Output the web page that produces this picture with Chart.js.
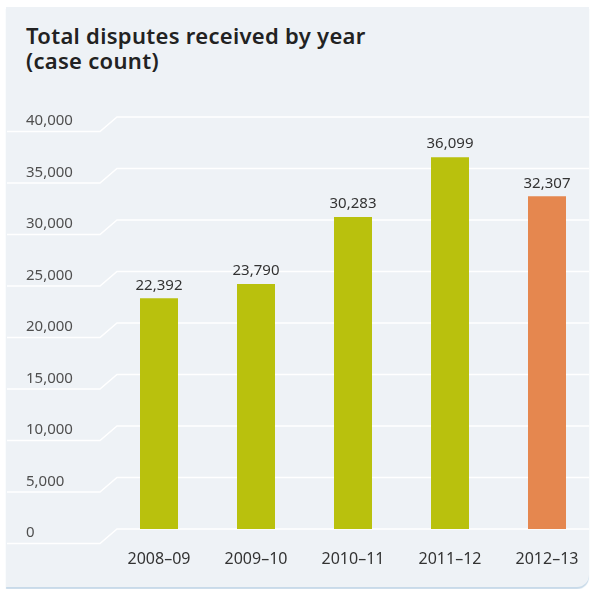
<!DOCTYPE html>
<html>
<head>
<meta charset="utf-8">
<script src="https://cdn.jsdelivr.net/npm/chart.js@4.4.1/dist/chart.umd.min.js"></script>
<style>
  html, body { margin: 0; padding: 0; background: #ffffff; overflow: hidden; }
  #panel {
    position: absolute; left: 6px; top: 7px; width: 583px; height: 580px;
    background: #eef2f6;
    border-bottom-right-radius: 12px;
    box-shadow: 0 2px 1px #c8dae9;
  }
  #title {
    position: absolute; left: 26px; top: 23px;
    font-family: "Noto Sans", sans-serif; font-weight: 600; font-size: 22px;
    line-height: 25px; color: #222222; letter-spacing: 0.3px;
  }
  #wrap { position: absolute; left: 0; top: 0; width: 600px; height: 589px; }
</style>
</head>
<body>
<div id="panel"></div>
<div id="title">Total disputes received by year<br>(case count)</div>
<div id="wrap"><canvas id="disputesChart"></canvas></div>
<script>
  const years = ["2008–09", "2009–10", "2010–11", "2011–12", "2012–13"];
  const disputes = [22392, 23790, 30283, 36099, 32307];
  const barColors = ["#b9c10d", "#b9c10d", "#b9c10d", "#b9c10d", "#e5874f"];
  const yTicks = [0, 5000, 10000, 15000, 20000, 25000, 30000, 35000, 40000];

  const fontFamily = '"Noto Sans", sans-serif';

  // white grid lines with a stepped left end under each tick label
  const steppedGrid = {
    id: "steppedGrid",
    beforeDatasetsDraw(chart) {
      const { ctx } = chart;
      const yScale = chart.scales.y;
      ctx.save();
      ctx.strokeStyle = "#ffffff";
      ctx.lineWidth = 1.5;
      yScale.ticks.forEach((tick) => {
        const y = yScale.getPixelForValue(tick.value);
        ctx.beginPath();
        ctx.moveTo(7, y + 14.5);
        ctx.lineTo(100, y + 14.5);
        ctx.lineTo(117, y);
        ctx.lineTo(589, y);
        ctx.stroke();
      });
      ctx.restore();
    },
  };

  // value labels above the bars
  const barValues = {
    id: "barValues",
    afterDatasetsDraw(chart) {
      const { ctx } = chart;
      const meta = chart.getDatasetMeta(0);
      ctx.save();
      ctx.font = "15px " + fontFamily;
      ctx.fillStyle = "#333333";
      ctx.textAlign = "center";
      ctx.textBaseline = "middle";
      meta.data.forEach((bar, i) => {
        ctx.fillText(disputes[i].toLocaleString("en-US"), bar.x, bar.y - 13);
      });
      ctx.restore();
    },
  };

  new Chart(document.getElementById("disputesChart"), {
    type: "bar",
    data: {
      labels: years,
      datasets: [
        {
          data: disputes,
          backgroundColor: barColors,
          borderWidth: 0,
          barPercentage: 1,
          categoryPercentage: 38 / 97,
        },
      ],
    },
    options: {
      responsive: true,
      maintainAspectRatio: false,
      animation: false,
      layout: { padding: { left: 26, right: 4.5, top: 117, bottom: 0 } },
      plugins: {
        legend: { display: false },
        tooltip: { enabled: false },
      },
      scales: {
        x: {
          grid: { display: false, drawTicks: false },
          border: { display: false },
          ticks: {
            color: "#333333",
            font: { family: fontFamily, size: 16 },
            padding: 21,
            maxRotation: 0,
          },
          afterFit(scale) {
            scale.height = 60;
          },
        },
        y: {
          min: 0,
          max: 40000,
          afterBuildTicks(scale) {
            scale.ticks = yTicks.map((v) => ({ value: v }));
          },
          grid: { display: false, drawTicks: false },
          border: { display: false },
          ticks: {
            crossAlign: "far",
            labelOffset: 4,
            color: "#4f4f4f",
            font: { family: fontFamily, size: 15 },
            callback: (v) => v.toLocaleString("en-US"),
          },
          afterFit(scale) {
            scale.width = 84.5;
          },
        },
      },
    },
    plugins: [steppedGrid, barValues],
  });
</script>
</body>
</html>
